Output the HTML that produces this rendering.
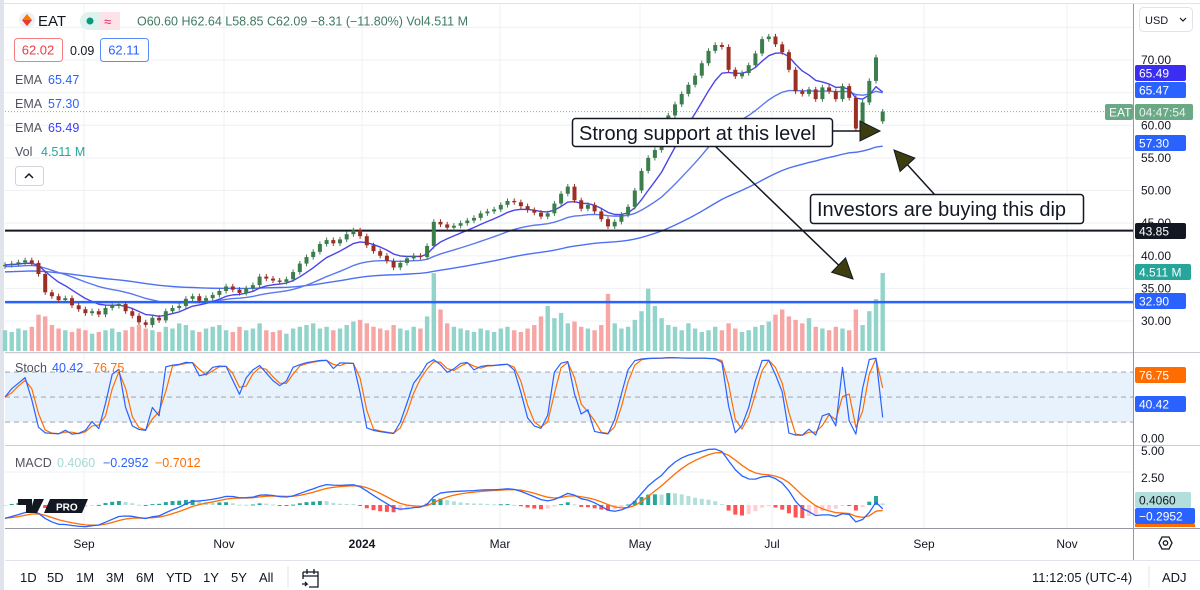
<!DOCTYPE html>
<html><head><meta charset="utf-8">
<style>
html,body{margin:0;padding:0;background:#fff;width:1200px;height:590px;overflow:hidden;font-family:"Liberation Sans",Arial,sans-serif;}
#wrap{position:relative;width:1200px;height:590px;}
svg{position:absolute;left:0;top:0;}
.t{font-family:"Liberation Sans",Arial,sans-serif;}
</style></head>
<body>
<div id="wrap">
<svg id="chart" width="1200" height="590" viewBox="0 0 1200 590"></svg>
</div>
<script>
// ---- data (every ~2 trading days, Jul 2023 - Aug 2024) ----
const closes = [38.6,38.8,39.0,39.3,38.9,37.2,34.4,33.8,33.2,33.5,32.4,31.8,31.2,31.5,31.0,32.0,32.3,32.6,31.5,30.8,
29.8,29.4,30.5,30.1,31.5,32.0,32.3,33.4,33.8,33.1,33.5,34.0,34.6,35.3,34.8,34.3,35.0,35.5,36.8,36.5,
36.2,36.0,36.4,37.5,38.8,39.8,40.6,41.8,42.4,41.9,42.5,43.3,43.9,43.0,41.6,40.7,40.0,39.2,38.2,38.9,
39.6,40.0,39.8,41.5,45.2,44.8,44.3,44.6,45.0,45.4,45.8,46.5,46.8,47.1,47.8,48.4,48.2,47.6,47.0,46.6,
46.0,46.5,48.0,49.5,50.6,48.5,47.2,47.8,46.8,45.6,44.5,45.2,46.3,47.5,50.0,53.0,55.0,56.2,57.8,61.5,
63.2,64.8,66.2,67.6,69.5,71.4,72.3,72.0,68.5,67.5,68.0,69.2,71.0,73.2,73.6,72.4,71.2,68.5,65.2,64.8,
65.5,64.0,65.8,65.2,64.0,66.0,64.2,59.5,63.5,66.8,70.4,62.09];
const volumes = [1.2,1.1,1.3,1.2,1.4,2.1,2.0,1.5,1.3,1.2,1.1,1.3,1.2,1.0,1.1,1.2,1.3,1.1,1.2,1.4,
1.5,1.3,1.2,1.1,1.4,1.3,1.6,1.5,1.2,1.1,1.3,1.4,1.5,1.2,1.1,1.4,1.2,1.3,1.6,1.2,
1.1,1.2,1.0,1.3,1.4,1.5,1.6,1.3,1.4,1.2,1.3,1.5,1.7,1.8,1.6,1.4,1.3,1.2,1.5,1.3,
1.2,1.4,1.3,2.0,4.5,2.4,1.6,1.4,1.3,1.2,1.1,1.3,1.2,1.1,1.3,1.4,1.2,1.1,1.3,1.5,
2.0,2.6,1.9,2.2,1.6,1.7,1.4,1.3,1.2,1.5,3.3,1.6,1.3,1.4,1.8,2.3,3.6,2.6,1.9,1.5,
1.4,1.2,1.6,1.3,1.1,1.2,1.4,1.2,1.6,1.3,1.1,1.2,1.4,1.5,1.7,2.1,2.4,2.0,1.8,1.6,
1.9,1.4,1.3,1.2,1.4,1.3,1.2,2.4,1.5,2.3,3.0,4.511];
const monthLabels = ["Sep","Nov","2024","Mar","May","Jul","Sep","Nov"];
const priceTicks = [70,60,55,50,45,40,35,30];
const stochTicks = [0];
const macdTicks = [5,2.5];
const emaPeriods = [8,25,80]; // in 2-day points

const NS="http://www.w3.org/2000/svg";
const svg=document.getElementById('chart');
function el(tag,attrs,parent){const e=document.createElementNS(NS,tag);for(const k in attrs)e.setAttribute(k,attrs[k]);(parent||svg).appendChild(e);return e;}
function txt(x,y,s,attrs,parent){const e=el('text',Object.assign({x:x,y:y,class:'t'},attrs),parent);e.textContent=s;return e;}

const X0=5, DX=6.7, PLOT_R=1133;
const xOf=i=>X0+i*DX;
const yP=p=>60+(70-p)*6.525;
const yV=v=>351-v*17.3;
const yS=v=>438.7-v*0.833;
const yM=v=>505-v*10.8;

// ---- grid ----
const grid=el('g',{});


for(let p=25;p<=75;p+=5){el('line',{x1:5,x2:PLOT_R,y1:yP(p),y2:yP(p),stroke:'#eef0f3','stroke-width':1},grid);}
const monthX=[84,224,362,500,640,772,924,1067];
monthX.forEach(x=>el('line',{x1:x,x2:x,y1:4,y2:528,stroke:'#eef0f3'},grid));
el('line',{x1:5,x2:PLOT_R,y1:472,y2:472,stroke:'#eef0f3'},grid);
el('rect',{x:0,y:0,width:4,height:590,fill:'#e0e3eb'});
el('line',{x1:4,x2:1200,y1:3.5,y2:3.5,stroke:'#e0e3eb'});
el('line',{x1:5,x2:1200,y1:352.5,y2:352.5,stroke:'#c9ccd3'});
el('line',{x1:5,x2:1200,y1:445.5,y2:445.5,stroke:'#c9ccd3'});
el('line',{x1:5,x2:1200,y1:528.5,y2:528.5,stroke:'#9598a1'});
el('line',{x1:PLOT_R+0.5,x2:PLOT_R+0.5,y1:4,y2:560,stroke:'#9598a1'});
el('line',{x1:5,x2:1200,y1:560.5,y2:560.5,stroke:'#e0e3eb'});

const lastOpen=60.6;
const openOf=i=>i===closes.length-1?lastOpen:(i?closes[i-1]:38.4);

// ---- volume ----
const vg=el('g',{});


closes.forEach((c,i)=>{
  const b=el('rect',{x:xOf(i)-2.2,y:yV(volumes[i]),width:4.4,height:351-yV(volumes[i]),fill:c>=openOf(i)?'#92d4cb':'#f7a6a6'},vg);
  
  
});

// ---- EMA ----
function ema(arr,n,seed){const a=2/(n+1);let v=seed;return arr.map(c=>(v=v+a*(c-v)));}
const emaFast=ema(closes,emaPeriods[0],38.6), emaMid=ema(closes,emaPeriods[1],38.3), emaSlow=ema(closes,emaPeriods[2],37.5);
function poly(vals,yf,color,w,name,parent){
  const l=el('polyline',{points:vals.map((v,i)=>xOf(i)+','+yf(v)).join(' '),fill:'none',stroke:color,'stroke-width':w,'stroke-linejoin':'round'},parent);
  
  
  return l;
}
poly(emaSlow,yP,'#4d6ff5',1.4,'ema-200-line');
poly(emaMid,yP,'#5a78f0',1.4,'ema-50-line');
poly(emaFast,yP,'#4b44e8',1.4,'ema-20-line');

// ---- horizontal levels ----
const l1=el('line',{x1:5,x2:PLOT_R,y1:yP(43.85),y2:yP(43.85),stroke:'#131722','stroke-width':2});


const l2=el('line',{x1:5,x2:PLOT_R,y1:yP(32.9),y2:yP(32.9),stroke:'#2962ff','stroke-width':2.5});


el('line',{x1:5,x2:PLOT_R,y1:yP(62.09),y2:yP(62.09),stroke:'#7fb59a','stroke-width':1,'stroke-dasharray':'1 2'});

// ---- candles ----
const cg=el('g',{});


closes.forEach((c,i)=>{
  const o=openOf(i);
  const up=c>=o, col=up?'#3b7e4b':'#9c2f24';
  const hi=Math.max(o,c)+0.4, lo=Math.min(o,c)-0.4;
  const x=xOf(i);
  el('line',{x1:x,x2:x,y1:yP(hi),y2:yP(lo),stroke:col,'stroke-width':1},cg);
  const top=yP(Math.max(o,c)), h=Math.max(1,yP(Math.min(o,c))-top);
  const r=el('rect',{x:x-2,y:top,width:4,height:h,fill:col},cg);
  
  
});

// ---- stochastic ----
const sg=el('g',{});


el('rect',{x:5,y:yS(80),width:PLOT_R-5,height:yS(20)-yS(80),fill:'#e8f2fc'},sg);
[80,50,20].forEach(v=>el('line',{x1:5,x2:PLOT_R,y1:yS(v),y2:yS(v),stroke:'#9598a1','stroke-dasharray':'5 4','stroke-width':0.8},sg));
const rawK=closes.map((c,i)=>{const s=closes.slice(Math.max(0,i-6),i+1);const lo=Math.min(...s)-0.4,hi=Math.max(...s)+0.4;return (c-lo)/(hi-lo)*100;});
const K=rawK;
const D=K.map((v,i)=>i?(v+K[i-1])/2:v);
poly(D,yS,'#ff6d00',1.2,'stoch-d-line',sg);
poly(K,yS,'#2962ff',1.2,'stoch-k-line',sg);

// ---- MACD ----
const mg=el('g',{});


const e12=ema(closes,6,38.9), e26=ema(closes,13,40.3);
const macd=e12.map((v,i)=>v-e26[i]);
const sig=ema(macd,5,-1.2);
macd.forEach((m,i)=>{
  const h=m-sig[i], prevH=i?macd[i-1]-sig[i-1]:h;
  const col=h>=0?(h>=prevH?'#26a69a':'#b2dfdb'):(h<prevH?'#ff5252':'#ffcdd2');
  const y1=yM(Math.max(h,0)), y2=yM(Math.min(h,0));
  const r=el('rect',{x:xOf(i)-2,y:y1,width:4,height:Math.max(1,y2-y1),fill:col},mg);
  
  
});
poly(sig,yM,'#ff6d00',1.3,'macd-signal-line',mg);
poly(macd,yM,'#2962ff',1.3,'macd-line',mg);

const logo=el('g',{});


el('path',{d:'M18 499 h14 v14 h-6 v-8 h-8z M34 499 h10 l-7 14 h-7z',fill:'#131722'},logo);
el('path',{d:'M50 499 h38 l-6 14 h-38z',fill:'#131722'},logo);
txt(56,510.5,'PRO',{fill:'#fff','font-size':10,'font-weight':'bold'},logo);

// ---- annotations ----
const ann=el('g',{});


function arrow(x1,y1,x2,y2,name){
  const g=el('g',{},ann);
  
  
  const a=Math.atan2(y2-y1,x2-x1),L=20,W=10;
  const bx=x2-L*Math.cos(a),by=y2-L*Math.sin(a);
  el('line',{x1:x1,y1:y1,x2:bx,y2:by,stroke:'#131722','stroke-width':1.5},g);
  const px=-Math.sin(a)*W,py=Math.cos(a)*W;
  el('polygon',{points:`${x2},${y2} ${bx+px},${by+py} ${bx-px},${by-py}`,fill:'#3d3d10',stroke:'#131722','stroke-width':1},g);
}
arrow(832,131,880,131,'support-arrow');
arrow(715,146,853,279,'volume-arrow');
arrow(935,195,894,150,'dip-arrow');
const b1=el('g',{},ann);


el('rect',{x:572.5,y:118.5,width:260,height:28,rx:3,fill:'#fff',stroke:'#131722','stroke-width':1.5},b1);
txt(579,140,'Strong support at this level',{'font-size':20,fill:'#131722'},b1);
const b2=el('g',{},ann);


el('rect',{x:810.5,y:194.5,width:273,height:29,rx:3,fill:'#fff',stroke:'#131722','stroke-width':1.5},b2);
txt(817,216,'Investors are buying this dip',{'font-size':20,fill:'#131722'},b2);

// ---- header legend ----
const hd=el('g',{});


el('circle',{cx:27,cy:20,r:8,fill:'#eef0f3'},hd);
el('polygon',{points:'27,14 32,20 27,26 22,20',fill:'#f57c00'},hd);
el('polygon',{points:'22,20 32,20 27,26',fill:'#e53935'},hd);
txt(38,26,'EAT',{'font-size':15,fill:'#131722'},hd);
el('rect',{x:80,y:12,width:40,height:18,rx:9,fill:'#dff2ee'},hd);
el('rect',{x:100,y:12,width:20,height:18,rx:0,fill:'#fbe3e8'},hd);
el('circle',{cx:90,cy:21,r:3.5,fill:'#089981'},hd);
txt(104,26,'≈',{'font-size':13,fill:'#e91e63'},hd);
txt(137,25.5,'O60.60  H62.64  L58.85  C62.09  −8.31 (−11.80%)  Vol4.511 M',{'font-size':12.5,fill:'#3f7a62'},hd);
function box(x,y,w,h,stroke,color,s,name){const g=el('g',{},hd);
 el('rect',{x:x+.5,y:y+.5,width:w,height:h,rx:3,fill:'#fff',stroke:stroke},g);txt(x+w/2,y+h/2+5,s,{'font-size':13,fill:color,'text-anchor':'middle'},g);}
box(14,38,48,23,'#f77c80','#f23645','62.02','bid-price');
txt(70,55,'0.09',{'font-size':12.5,fill:'#131722'},hd);
box(100,38,48,23,'#5b8cff','#2962ff','62.11','ask-price');
[['EMA','65.47','#2962ff',84],['EMA','57.30','#2962ff',108],['EMA','65.49','#3d3dff',132],['Vol','4.511 M','#26a69a',156]].forEach(r=>{
  const g=el('g',{},hd);
  txt(15,r[3],r[0],{'font-size':12.5,fill:'#50535e'},g);txt(r[0]==='Vol'?41:48,r[3],r[1],{'font-size':12.5,fill:r[2]},g);
});
const cb=el('g',{},hd);
el('rect',{x:15.5,y:166.5,width:28,height:19,rx:3,fill:'#fff',stroke:'#d1d4dc'},cb);
el('polyline',{points:'25,178 29,174 33,178',fill:'none',stroke:'#131722','stroke-width':1.5},cb);
const st=el('g',{});
txt(15,372,'Stoch',{'font-size':12.5,fill:'#50535e'},st);txt(52,372,'40.42',{'font-size':12.5,fill:'#2962ff'},st);txt(93,372,'76.75',{'font-size':12.5,fill:'#ff6d00'},st);
const ml=el('g',{});
txt(15,467,'MACD',{'font-size':12.5,fill:'#50535e'},ml);txt(57,467,'0.4060',{'font-size':12.5,fill:'#a5d9d3'},ml);txt(103,467,'−0.2952',{'font-size':12.5,fill:'#2962ff'},ml);txt(155,467,'−0.7012',{'font-size':12.5,fill:'#ff6d00'},ml);

// ---- right axis ----
const ax=el('g',{});


const ud=el('g',{},ax);
el('rect',{x:1139.5,y:7.5,width:53,height:24,rx:4,fill:'#fff',stroke:'#e0e3eb'},ud);
txt(1145,24,'USD',{'font-size':11,fill:'#131722'},ud);
el('polyline',{points:'1180,18 1183,21 1186,18',fill:'none',stroke:'#131722','stroke-width':1.2},ud);
priceTicks.forEach(p=>txt(1141,yP(p)+4,p.toFixed(2),{'font-size':12,fill:'#131722'},ax));
stochTicks.forEach(v=>txt(1141,yS(v)+4,v.toFixed(2),{'font-size':12,fill:'#131722'},ax));
macdTicks.forEach(v=>txt(1141,yM(v)+4,v.toFixed(2),{'font-size':12,fill:'#131722'},ax));
function tag(x,y,w,bg,fg,s,name){const g=el('g',{},ax);
 el('rect',{x:x,y:y-8,width:w,height:16,rx:2,fill:bg},g);txt(x+4,y+4.5,s,{'font-size':12,fill:fg},g);}
tag(1135,73,51,'#3c2df2','#fff','65.49','ema-65-49-tag');
tag(1135,90,51,'#2962ff','#fff','65.47','ema-65-47-tag');
tag(1105,112,28,'#6aa886','#fff','EAT','symbol-tag');
tag(1135,112,58,'#6aa886','#e8f3ec','04:47:54','countdown-tag');
tag(1135,143,51,'#2962ff','#fff','57.30','ema-57-30-tag');
tag(1135,231,51,'#131722','#fff','43.85','level-43-85-tag');
tag(1135,272,56,'#26a69a','#fff','4.511 M','volume-tag');
tag(1135,301,51,'#2962ff','#fff','32.90','level-32-90-tag');
tag(1135,375,51,'#ff6d00','#fff','76.75','stoch-d-tag');
tag(1135,404,51,'#2962ff','#fff','40.42','stoch-k-tag');
tag(1135,500,56,'#b2dfdb','#131722','0.4060','macd-hist-tag');
tag(1135,516,60,'#2962ff','#fff','−0.2952','macd-tag');
el('rect',{x:1135,y:524,width:60,height:3,fill:'#ff6d00'},ax);

// ---- time axis ----
const ta=el('g',{});


monthLabels.forEach((m,i)=>txt(monthX[i],548,m,{'font-size':12,fill:'#131722','text-anchor':'middle','font-weight':m==='2024'?'bold':'normal'},ta));
const gear=el('g',{});
el('polygon',{points:'1159,543 1162,537 1169,537 1172,543 1169,549 1162,549',fill:'none',stroke:'#131722','stroke-width':1.3},gear);
el('circle',{cx:1165.5,cy:543,r:2.2,fill:'none',stroke:'#131722','stroke-width':1.3},gear);

// ---- bottom toolbar ----
const tb=el('g',{});


const ranges=["1D","5D","1M","3M","6M","YTD","1Y","5Y","All"];
const rx=[20,47,76,106,136,166,203,231,259];
ranges.forEach((r,i)=>{const t=txt(rx[i],582,r,{'font-size':13,fill:'#131722'},tb);});
el('line',{x1:288,x2:288,y1:566,y2:588,stroke:'#e0e3eb'},tb);
const cal=el('g',{},tb);
el('path',{d:'M303 572 h15 v15 h-9 M303 572 v7 M303 576 h15 M307 569 v5 M314 569 v5 M302 584 h5 l-2 -2 M307 584 l-2 2',fill:'none',stroke:'#131722','stroke-width':1.3},cal);
const clk=txt(1032,582,'11:12:05 (UTC-4)',{'font-size':13,fill:'#131722'},tb);
el('line',{x1:1149,x2:1149,y1:566,y2:588,stroke:'#e0e3eb'},tb);
const adj=txt(1162,582,'ADJ',{'font-size':13,fill:'#131722'},tb);
</script>
</body></html>
